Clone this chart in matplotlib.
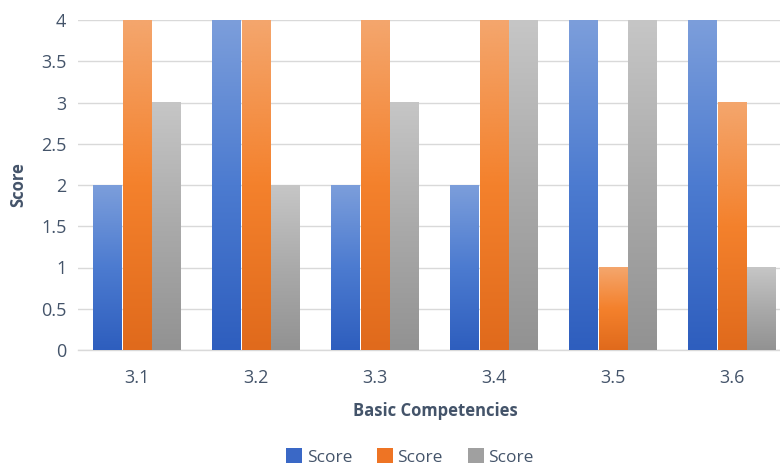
import numpy as np
import matplotlib
matplotlib.use('Agg')
import matplotlib.pyplot as plt
from matplotlib.colors import LinearSegmentedColormap
from matplotlib.patches import Patch

# Data
categories = ['3.1', '3.2', '3.3', '3.4', '3.5', '3.6']
series_a = [2, 4, 2, 2, 4, 4]
series_b = [4, 4, 4, 4, 1, 3]
series_c = [3, 2, 3, 4, 4, 1]
series_names = ['Score', 'Score', 'Score']

# gradient stops (top, middle, bottom) for each series
gradients = [
    ['#7C9EDB', '#4C7BD0', '#2E5EBE'],
    ['#F4A66D', '#F4812C', '#E06A1C'],
    ['#C6C6C6', '#AAAAAA', '#929292'],
]
legend_colors = ['#3A68C6', '#EE7424', '#A0A0A0']
text_color = '#44546A'
grid_color = '#D9D9D9'

plt.rcParams['font.family'] = ['Open Sans', 'DejaVu Sans']

fig = plt.figure(figsize=(7.8, 4.67), dpi=100)
ax = fig.add_axes([77.5 / 780, 117 / 467, 714 / 780, 330 / 467])

x = np.arange(len(categories))
width = 0.25
all_series = [series_a, series_b, series_c]

for i, vals in enumerate(all_series):
    cmap = LinearSegmentedColormap.from_list('g%d' % i, gradients[i][::-1])
    offs = (i - 1) * width
    bars = ax.bar(x + offs, vals, width, color='none',
                  edgecolor='none', zorder=3)
    # fill each bar with a vertical gradient (light top, dark bottom)
    for b in bars:
        x0, y0 = b.get_x(), b.get_y()
        w, h = b.get_width(), b.get_height()
        grad = np.linspace(0, 1, 256).reshape(-1, 1)
        ax.imshow(grad, cmap=cmap, aspect='auto', origin='lower',
                  extent=[x0 + 0.004, x0 + w - 0.004, y0, y0 + h],
                  zorder=3, interpolation='bicubic')

ax.set_xlim(-0.5, len(categories) - 0.5)
ax.set_ylim(0, 4)
ax.set_yticks(np.arange(0, 4.01, 0.5))
ax.set_yticklabels(['0', '0.5', '1', '1.5', '2', '2.5', '3', '3.5', '4'])
ax.set_xticks(x)
ax.set_xticklabels(categories)

ax.grid(axis='y', color=grid_color, linewidth=1, zorder=0)
ax.set_axisbelow(True)
for s in ['top', 'right', 'left']:
    ax.spines[s].set_visible(False)
ax.spines['bottom'].set_color(grid_color)
ax.spines['bottom'].set_linewidth(1)

ax.tick_params(axis='both', length=0, labelsize=13, labelcolor=text_color)
ax.tick_params(axis='y', pad=8)
ax.tick_params(axis='x', pad=14)

fig.text(18 / 780, 1 - 185 / 467, 'Score', rotation=90, ha='center', va='center',
         fontsize=12, fontweight='bold', color=text_color)
fig.text(435 / 780, 1 - 411 / 467, 'Basic Competencies', ha='center', va='center',
         fontsize=12, fontweight='bold', color=text_color)

handles = [Patch(facecolor=c, edgecolor='none', label=n)
           for c, n in zip(legend_colors, series_names)]
fig.legend(handles=handles, loc='center', bbox_to_anchor=(410 / 780, 1 - 457 / 467),
           ncol=3, frameon=False, fontsize=12.5, labelcolor=text_color,
           handlelength=0.92, handleheight=0.92, handletextpad=0.25, columnspacing=1.45,
           borderpad=0)

fig.savefig('out.png', dpi=100)
